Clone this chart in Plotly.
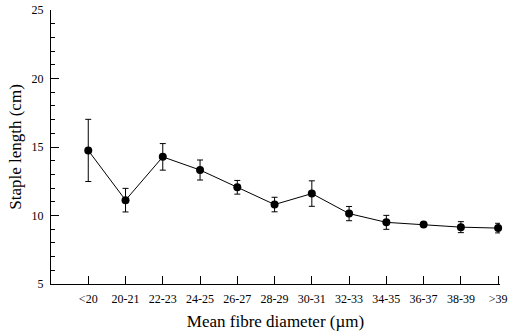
import plotly.graph_objects as go

categories = ["<20", "20-21", "22-23", "24-25", "26-27", "28-29", "30-31",
              "32-33", "34-35", "36-37", "38-39", ">39"]
staple_length = [14.75, 11.12, 14.28, 13.32, 12.06, 10.80, 11.60,
                 10.14, 9.50, 9.35, 9.15, 9.08]
error = [2.27, 0.86, 0.97, 0.73, 0.50, 0.53, 0.93, 0.52, 0.51, 0.10, 0.40, 0.35]

x_idx = list(range(len(categories)))

fig = go.Figure()
fig.add_trace(go.Scatter(
    x=x_idx, y=staple_length,
    mode="lines+markers",
    line=dict(color="black", width=1),
    marker=dict(color="black", size=8),
    error_y=dict(type="data", array=error, visible=True, color="black",
                 thickness=1, width=3),
    cliponaxis=False,
    showlegend=False,
))

font_family = "Liberation Serif"

fig.update_layout(
    width=508, height=333,
    margin=dict(l=51, r=8, t=10, b=49),
    paper_bgcolor="white", plot_bgcolor="white",
    font=dict(family=font_family, color="black", size=12),
    xaxis=dict(
        range=[-1, 11.05], automargin=False,
        tickmode="array", tickvals=x_idx, ticktext=categories,
        ticks="inside", ticklen=8, tickcolor="black", tickwidth=1,
        showline=True, linecolor="black", linewidth=1,
        showgrid=False, zeroline=False,
        ticklabelstandoff=4,
        tickfont=dict(size=12, family=font_family),
        title=dict(text="Mean fibre diameter (µm)", font=dict(size=17, family=font_family), standoff=9),
    ),
    yaxis=dict(
        range=[5, 25], automargin=False,
        tickmode="linear", tick0=5, dtick=5,
        ticks="inside", ticklen=8, tickcolor="black", tickwidth=1,
        minor=dict(ticks="inside", ticklen=4, dtick=1, tick0=5, tickcolor="black", tickwidth=1, showgrid=False),
        showline=True, linecolor="black", linewidth=1,
        showgrid=False, zeroline=False,
        ticklabelstandoff=4,
        tickfont=dict(size=12, family=font_family),
        title=dict(text="Staple length (cm)", font=dict(size=17, family=font_family), standoff=5),
    ),
)

fig.write_html("out.html", config={"displayModeBar": False},
               post_script="document.body.style.margin='0';document.body.style.overflow='hidden';")
